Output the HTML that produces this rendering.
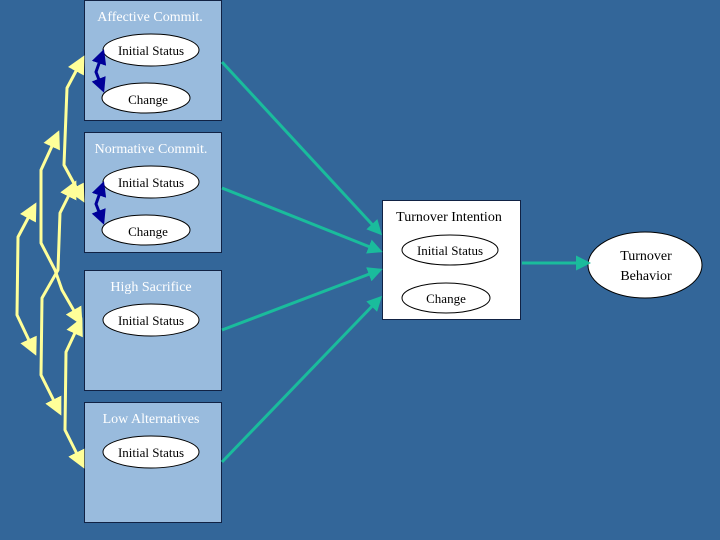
<!DOCTYPE html>
<html><head><meta charset="utf-8"><style>
body{margin:0;background:#336699;}
svg{display:block}
text{font-family:"Liberation Serif",serif;}
</style></head><body>
<svg width="720" height="540" viewBox="0 0 720 540" xmlns="http://www.w3.org/2000/svg">
<defs>
<marker id="y" markerWidth="6" markerHeight="6" refX="5" refY="3" orient="auto-start-reverse" markerUnits="strokeWidth"><path d="M0,0 L6,3 L0,6 z" fill="#ffff99"/></marker>
<marker id="b" markerWidth="5" markerHeight="5" refX="4" refY="2.5" orient="auto-start-reverse" markerUnits="strokeWidth"><path d="M0,0 L5,2.5 L0,5 z" fill="#000099"/></marker>
<marker id="t" markerWidth="5" markerHeight="5" refX="4" refY="2.5" orient="auto" markerUnits="strokeWidth"><path d="M0,0 L5,2.5 L0,5 z" fill="#1abc9c"/></marker>
</defs>
<rect width="720" height="540" fill="#336699"/>
<g fill="#99bbdd" stroke="#112244" stroke-width="1">
<rect x="84.5" y="0.5" width="137" height="120"/>
<rect x="84.5" y="132.5" width="137" height="120"/>
<rect x="84.5" y="270.5" width="137" height="120"/>
<rect x="84.5" y="402.5" width="137" height="120"/>
</g>
<rect x="382.5" y="200.5" width="138" height="119" fill="#fff" stroke="#112244"/>
<g font-size="14" fill="#fff" text-anchor="middle">
<text x="150" y="21">Affective Commit.</text>
<text x="151" y="153">Normative Commit.</text>
<text x="151" y="291">High Sacrifice</text>
<text x="151" y="423">Low Alternatives</text>
</g>
<g fill="#fff" stroke="#000" stroke-width="1">
<ellipse cx="151" cy="50" rx="48" ry="16"/><ellipse cx="146" cy="98" rx="44" ry="15"/>
<ellipse cx="151" cy="182" rx="48" ry="16"/><ellipse cx="146" cy="230" rx="44" ry="15"/>
<ellipse cx="151" cy="320" rx="48" ry="16"/>
<ellipse cx="151" cy="452" rx="48" ry="16"/>
<ellipse cx="450" cy="250" rx="48" ry="15"/><ellipse cx="446" cy="298" rx="44" ry="15"/>
<ellipse cx="645" cy="265" rx="57" ry="33"/>
</g>
<g font-size="13" fill="#000" text-anchor="middle">
<text x="151" y="55">Initial Status</text><text x="148" y="104">Change</text>
<text x="151" y="187">Initial Status</text><text x="148" y="236">Change</text>
<text x="151" y="325">Initial Status</text>
<text x="151" y="457">Initial Status</text>
<text x="450" y="255">Initial Status</text><text x="446" y="303">Change</text>
<text x="646" y="260" font-size="14">Turnover</text><text x="646" y="280" font-size="14">Behavior</text>
<text x="449" y="221" font-size="14">Turnover Intention</text>
</g>
<g fill="none" stroke="#000099" stroke-width="3">
<polyline points="103,52 96,72 103,90" marker-start="url(#b)" marker-end="url(#b)"/>
<polyline points="103,184 96,204 103,222" marker-start="url(#b)" marker-end="url(#b)"/>
</g>
<g fill="none" stroke="#ffff99" stroke-width="3" stroke-linejoin="round">
<polyline points="83,58 67,88 64,165 83,200" marker-start="url(#y)" marker-end="url(#y)"/>
<polyline points="58,133 41,170 41,243 55,270 62,290 81,323" marker-start="url(#y)" marker-end="url(#y)"/>
<polyline points="75,183 60,213 58,270 42,298 41,375 60,413" marker-start="url(#y)" marker-end="url(#y)"/>
<polyline points="35,205 18,237 17,315 35,353" marker-start="url(#y)" marker-end="url(#y)"/>
<polyline points="81,320 66,352 65,430 83,466" marker-start="url(#y)" marker-end="url(#y)"/>
</g>
<g stroke="#1abc9c" stroke-width="3" marker-end="url(#t)">
<line x1="222" y1="62" x2="380" y2="233"/>
<line x1="222" y1="188" x2="380" y2="251"/>
<line x1="222" y1="330" x2="380" y2="270"/>
<line x1="222" y1="462" x2="380" y2="298"/>
<line x1="522" y1="263" x2="588" y2="263"/>
</g>
</svg>
</body></html>
